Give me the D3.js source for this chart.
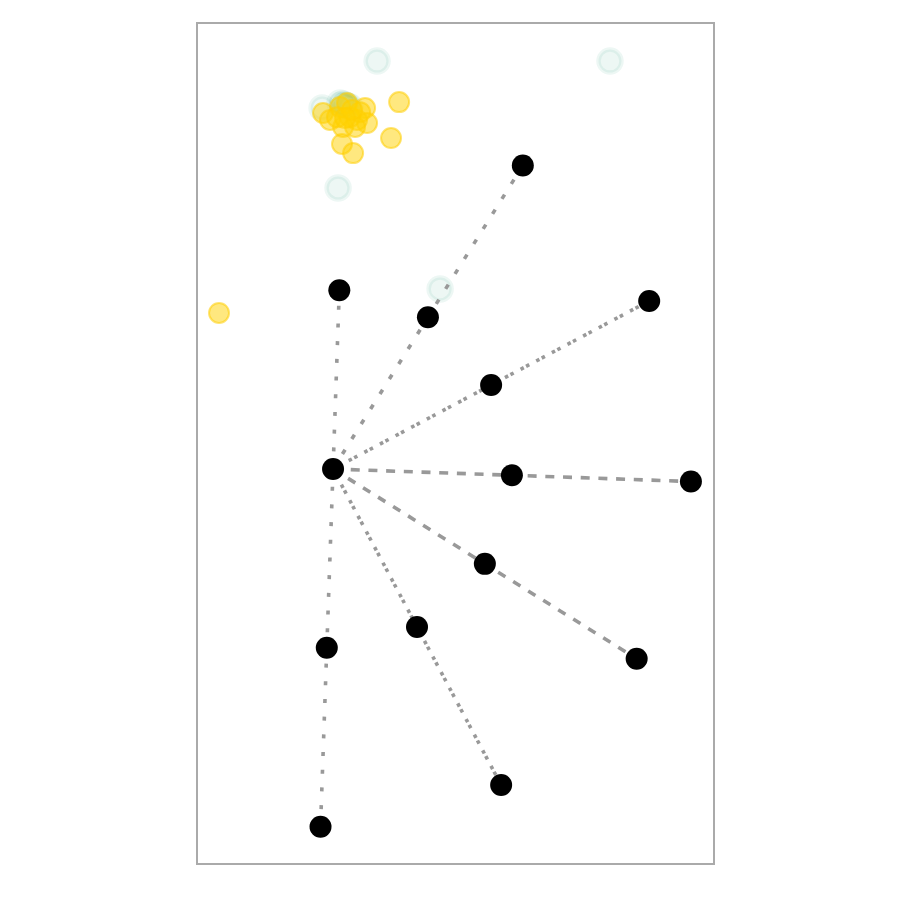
<!DOCTYPE html>
<html>
<head>
<meta charset="utf-8">
<script src="https://cdn.jsdelivr.net/npm/d3@7"></script>
<style>
  html, body { margin: 0; padding: 0; background: #fff; }
</style>
</head>
<body>
<div id="chart"></div>
<script>
    // hub node
    const hub = { x: 0, y: 0 };

    // first ring of nodes (one per spoke)
    const innerNodes = [
        { x: 0.035, y: 0.999 },
        { x: 0.530, y: 0.848 },
        { x: 0.883, y: 0.469 },
        { x: 0.999, y: -0.035 },
        { x: 0.848, y: -0.530 },
        { x: 0.469, y: -0.883 },
        { x: -0.035, y: -0.999 }
    ];

    // second ring (top spoke has none)
    const outerNodes = [
        null,
        { x: 1.060, y: 1.696 },
        { x: 1.766, y: 0.939 },
        { x: 1.999, y: -0.070 },
        { x: 1.696, y: -1.060 },
        { x: 0.939, y: -1.766 },
        { x: -0.070, y: -1.999 }
    ];

    // light teal points
    const tealPoints = [
        { x: 0.246, y: 2.279 },
        { x: 1.547, y: 2.279 },
        { x: -0.061, y: 2.017 },
        { x: 0.028, y: 1.570 },
        { x: 0.598, y: 1.006 },
        { x: 0.067, y: 2.034 },
        { x: 0.039, y: 2.045 },
        { x: 0.095, y: 2.022 },
        { x: 0.056, y: 2.040 },
        { x: 0.080, y: 2.028 }
    ];

    // yellow points
    const yellowPoints = [
        { x: -0.637, y: 0.872 },
        { x: 0.369, y: 2.050 },
        { x: 0.324, y: 1.849 },
        { x: 0.050, y: 1.816 },
        { x: 0.112, y: 1.765 },
        { x: -0.056, y: 1.989 },
        { x: -0.017, y: 1.950 },
        { x: 0.039, y: 2.022 },
        { x: 0.078, y: 2.045 },
        { x: 0.179, y: 2.017 },
        { x: 0.190, y: 1.933 },
        { x: 0.134, y: 1.950 },
        { x: 0.095, y: 1.966 },
        { x: 0.056, y: 1.911 },
        { x: 0.022, y: 1.966 },
        { x: 0.151, y: 1.994 },
        { x: 0.123, y: 1.911 },
        { x: 0.106, y: 2.006 },
        { x: 0.067, y: 1.961 }
    ];

    const xDomain = [-0.76, 2.128];
    const yDomain = [-2.207, 2.492];

    // dash pattern of each spoke (style only)
    const spokeDash = [
        "4,13.7",
        "5,12.7",
        "3.6,2.6,3.6,7.9",
        "9,8.7",
        "8.5,9.2",
        "3.6,3,3.6,7.5",
        "4,13.7"
    ];

    function create_spoke_chart(targetElementId) {
        const W = 900, H = 900;
        const box = { left: 197, top: 23, right: 714, bottom: 864 };

        const svg = d3.select(`#${targetElementId}`).append("svg")
            .attr("width", W)
            .attr("height", H)
            .attr("viewBox", `0 0 ${W} ${H}`);

        const x = d3.scaleLinear().domain(xDomain).range([box.left, box.right]);
        const y = d3.scaleLinear().domain(yDomain).range([box.bottom, box.top]);

        // frame
        svg.append("rect")
            .attr("x", box.left)
            .attr("y", box.top)
            .attr("width", box.right - box.left)
            .attr("height", box.bottom - box.top)
            .attr("fill", "none")
            .attr("stroke", "#aaaaaa")
            .attr("stroke-width", 2);

        // teal points
        svg.append("g").selectAll("circle")
            .data(tealPoints)
            .enter()
            .append("circle")
                .attr("cx", d => x(d.x))
                .attr("cy", d => y(d.y))
                .attr("r", 11.5)
                .attr("fill", "rgba(60,170,130,0.09)")
                .attr("stroke", "rgba(60,170,130,0.09)")
                .attr("stroke-width", 4.5);

        // yellow points
        svg.append("g").selectAll("circle")
            .data(yellowPoints)
            .enter()
            .append("circle")
                .attr("cx", d => x(d.x))
                .attr("cy", d => y(d.y))
                .attr("r", 10)
                .attr("fill", "rgba(255,210,0,0.5)")
                .attr("stroke", "rgba(255,205,0,0.55)")
                .attr("stroke-width", 2);

        // spokes: dotted lines from hub to furthest node
        const spokes = innerNodes.map((d, i) => ({ end: outerNodes[i] || d, dash: spokeDash[i] }));
        svg.append("g").selectAll("line")
            .data(spokes)
            .enter()
            .append("line")
                .attr("x1", x(hub.x))
                .attr("y1", y(hub.y))
                .attr("x2", d => x(d.end.x))
                .attr("y2", d => y(d.end.y))
                .attr("stroke", "#999999")
                .attr("stroke-width", 3.6)
                .attr("stroke-dasharray", d => d.dash);

        // black nodes
        const nodes = [hub].concat(innerNodes, outerNodes.filter(d => d));
        svg.append("g").selectAll("circle")
            .data(nodes)
            .enter()
            .append("circle")
                .attr("cx", d => x(d.x))
                .attr("cy", d => y(d.y))
                .attr("r", 11)
                .attr("fill", "#000000");
    }

    create_spoke_chart("chart");
</script>
</body>
</html>
